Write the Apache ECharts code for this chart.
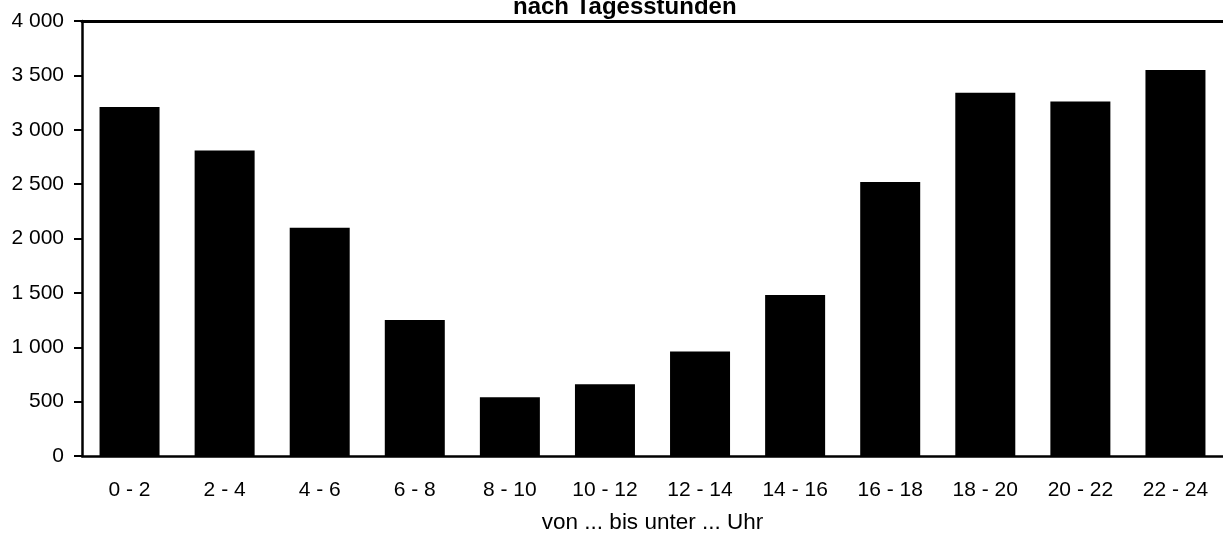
<!DOCTYPE html>
<html>
<head>
<meta charset="utf-8">
<style>
  html, body { margin: 0; padding: 0; background: #fff; }
  #chart { width: 1223px; height: 539px; }
</style>
<script src="https://cdn.jsdelivr.net/npm/echarts@6/dist/echarts.min.js"></script>
</head>
<body>
<div id="chart"></div>
<script>
const categories = ['0 - 2', '2 - 4', '4 - 6', '6 - 8', '8 - 10', '10 - 12', '12 - 14', '14 - 16', '16 - 18', '18 - 20', '20 - 22', '22 - 24'];
const values = [3210, 2810, 2100, 1250, 540, 660, 960, 1480, 2520, 3340, 3260, 3550];
const titleText = 'nach Tagesstunden';
const xAxisName = 'von ... bis unter ... Uhr';
const yMin = 0, yMax = 4000, yStep = 500;

const FONT = '"Liberation Sans", Arial, sans-serif';
const fmt = v => String(v).replace(/\B(?=(\d{3})+(?!\d))/g, ' ');

const chart = echarts.init(document.getElementById('chart'), null, { renderer: 'canvas' });
chart.setOption({
  animation: false,
  backgroundColor: '#ffffff',
  textStyle: { fontFamily: FONT, color: '#000' },
  title: {
    text: titleText,
    left: 513,
    top: -5,
    padding: 0,
    textStyle: { fontFamily: FONT, fontSize: 24, fontWeight: 'bold', color: '#000' }
  },
  grid: { left: 82, right: -10, top: 21, bottom: 82, containLabel: false },
  xAxis: [{
    type: 'category',
    data: categories,
    position: 'bottom',
    axisLine: { show: true, lineStyle: { color: '#000', width: 2.5 } },
    axisTick: { show: false },
    axisLabel: { color: '#000', fontFamily: FONT, fontSize: 21, margin: 24, interval: 0 },
    name: xAxisName,
    nameLocation: 'middle',
    nameGap: 55,
    nameTextStyle: { color: '#000', fontFamily: FONT, fontSize: 22.5 }
  }, {
    type: 'category',
    data: categories,
    position: 'top',
    axisLine: { show: true, lineStyle: { color: '#000', width: 3 } },
    axisTick: { show: false },
    axisLabel: { show: false }
  }],
  yAxis: {
    type: 'value',
    min: yMin,
    max: yMax,
    interval: yStep,
    axisLine: { show: true, lineStyle: { color: '#000', width: 2.5 } },
    axisTick: { show: true, inside: false, length: 8, lineStyle: { color: '#000', width: 2 } },
    axisLabel: { color: '#000', fontFamily: FONT, fontSize: 21, margin: 18, formatter: fmt },
    splitLine: { show: false }
  },
  series: [{
    type: 'bar',
    data: values,
    xAxisIndex: 0,
    barWidth: 60,
    itemStyle: { color: '#000' }
  }]
});
</script>
</body>
</html>
